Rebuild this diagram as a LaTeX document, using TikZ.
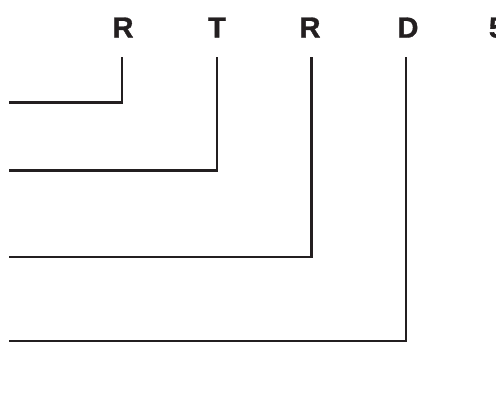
\documentclass[tikz,border=0pt]{standalone}
\usepackage{fontspec}
\newfontfamily\lblfont{Liberation Sans Bold}[FakeBold=1.2]
\usetikzlibrary{positioning}
\definecolor{ink}{RGB}{35,31,32}

\begin{document}
\begin{tikzpicture}[
    x=1pt, y=-1pt,
    lbl/.style={font=\fontsize{29}{29}\lblfont, inner sep=0pt, anchor=base, text=ink},
    wire/.style={line width=2.5pt, draw=ink}
]
    \useasboundingbox (0,0) rectangle (496,408);
    \clip (0,0) rectangle (496,408);

    \node[lbl] (r1) at (123,37.5) {R};
    \node[lbl] (t1) at (217,37.5) {T};
    \node[lbl] (r2) at (310,37.5) {R};
    \node[lbl] (d1) at (408,37.5) {D};
    \node[lbl] (n5) at (497,37.5) {5};

    \coordinate (top1) at (122,57);
    \coordinate (top2) at (217,57);
    \coordinate (top3) at (311.5,57);
    \coordinate (top4) at (406,57);

    \coordinate (in1) at (9,102.5);
    \coordinate (in2) at (9,170.5);
    \coordinate (in3) at (9,257);
    \coordinate (in4) at (9,341);

    \draw[wire] (in1) -| (top1);
    \draw[wire] (in2) -| (top2);
    \draw[wire] (in3) -| (top3);
    \draw[wire] (in4) -| (top4);
\end{tikzpicture}
\end{document}
